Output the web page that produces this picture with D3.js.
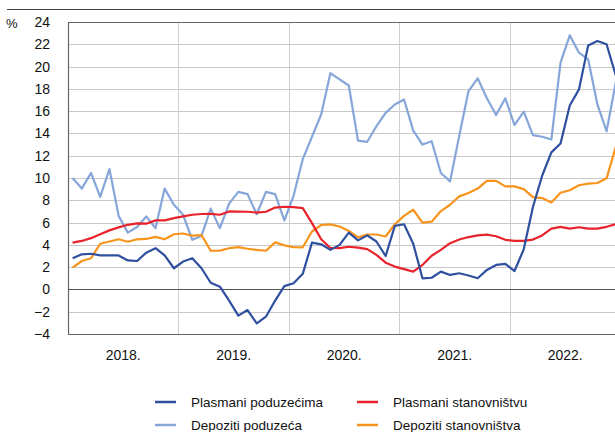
<!DOCTYPE html>
<html>
<head>
<meta charset="utf-8">
<script src="https://cdn.jsdelivr.net/npm/d3@7"></script>
<style>
  body { margin: 0; background: #fff; }
  svg { display: block; font-family: "Liberation Sans", Arial, sans-serif; }
</style>
</head>
<body>
<svg id="chart" width="615" height="432"></svg>
<script>
// monthly data, Jan 2018 - Dec 2022
const years = ["2018.", "2019.", "2020.", "2021.", "2022."];
const yTicks = [-4, -2, 0, 2, 4, 6, 8, 10, 12, 14, 16, 18, 20, 22, 24];

const plasmaniPoduzecima = [
  2.8, 3.15, 3.2, 3.05, 3.05, 3.05, 2.6, 2.55, 3.3, 3.7, 3.05, 1.9,
  2.5, 2.8, 1.9, 0.6, 0.25, -1.0, -2.35, -1.85, -3.05, -2.45, -1.0, 0.3,
  0.55, 1.4, 4.2, 4.05, 3.55, 4.0, 5.1, 4.4, 4.85, 4.3, 3.0, 5.7,
  5.85, 4.1, 1.0, 1.05, 1.6, 1.3, 1.45, 1.25, 1.0, 1.75, 2.2, 2.3,
  1.65, 3.6, 7.4, 10.2, 12.3, 13.1, 16.5, 17.95, 21.9, 22.3, 22.0, 19.2
];
const depozitiPoduzeca = [
  10.0, 9.05, 10.45, 8.3, 10.8, 6.6, 5.1, 5.6, 6.55, 5.5, 9.05, 7.6,
  6.7, 4.45, 4.8, 7.25, 5.5, 7.7, 8.75, 8.55, 6.75, 8.75, 8.55, 6.2,
  8.4, 11.7, 13.7, 15.7, 19.4, 18.85, 18.3, 13.35, 13.25, 14.65, 15.85, 16.6,
  17.05, 14.25, 13.0, 13.3, 10.45, 9.7, 13.8, 17.8, 18.95, 17.15, 15.65, 17.15,
  14.75, 15.95, 13.85, 13.7, 13.45, 20.35, 22.8, 21.25, 20.65, 16.6, 14.2, 18.6
];
const plasmaniStanovnistvu = [
  4.2, 4.35, 4.6, 4.95, 5.3, 5.57, 5.8, 5.93, 5.9, 6.2, 6.2, 6.4,
  6.55, 6.7, 6.77, 6.78, 6.7, 7.0, 6.98, 6.97, 6.9, 6.97, 7.35, 7.42,
  7.38, 7.3, 5.95, 4.5, 3.72, 3.7, 3.83, 3.75, 3.62, 3.1, 2.4, 2.05,
  1.82, 1.6, 2.2, 3.02, 3.55, 4.15, 4.48, 4.7, 4.85, 4.92, 4.77, 4.45,
  4.36, 4.36, 4.47, 4.85, 5.45, 5.62, 5.45, 5.58, 5.45, 5.45, 5.62, 5.86
];
const depozitiStanovnistva = [
  1.95, 2.55, 2.8, 4.1, 4.3, 4.5, 4.28, 4.5, 4.53, 4.72, 4.5, 4.95,
  5.02, 4.82, 4.88, 3.47, 3.48, 3.7, 3.8, 3.65, 3.55, 3.47, 4.22, 3.95,
  3.8, 3.78, 5.2, 5.78, 5.84, 5.65, 5.25, 4.67, 4.93, 4.93, 4.75, 5.85,
  6.6, 7.15, 6.0, 6.08, 7.03, 7.6, 8.35, 8.65, 9.05, 9.74, 9.74, 9.25,
  9.25, 9.0, 8.28, 8.2, 7.8, 8.68, 8.9, 9.35, 9.5, 9.55, 9.97, 12.8
];

const series = [
  { name: "Plasmani poduzećima", values: plasmaniPoduzecima, color: "#2f4f9f" },
  { name: "Depoziti poduzeća", values: depozitiPoduzeca, color: "#86a6d9" },
  { name: "Plasmani stanovništvu", values: plasmaniStanovnistvu, color: "#e8232b" },
  { name: "Depoziti stanovništva", values: depozitiStanovnistva, color: "#f7941d" }
];

const svg = d3.select("#chart");
const margin = { left: 68, top: 22, bottom: 334 };

const x = d3.scaleLinear().domain([0, 60]).range([margin.left, 620.4]);
const y = d3.scaleLinear().domain([-4, 24]).range([margin.bottom, margin.top]);
const ry = v => Math.round(y(v)) + 0.5;

// top rule
svg.append("line")
  .attr("x1", 7).attr("x2", 615)
  .attr("y1", 9.5).attr("y2", 9.5)
  .attr("stroke", "#444").attr("stroke-width", 1.2);

// horizontal gridlines
svg.append("g")
  .selectAll("line")
  .data(yTicks.filter(d => d !== 0 && d !== -4 && d !== 24))
  .join("line")
  .attr("x1", margin.left).attr("x2", 615)
  .attr("y1", ry).attr("y2", ry)
  .attr("stroke", "#c8c8c8").attr("stroke-width", 1);

// vertical gridlines at year boundaries
svg.append("g")
  .selectAll("line")
  .data([12, 24, 36, 48])
  .join("line")
  .attr("x1", d => Math.round(x(d)) + 0.5).attr("x2", d => Math.round(x(d)) + 0.5)
  .attr("y1", margin.top).attr("y2", margin.bottom)
  .attr("stroke", "#cfcfcf").attr("stroke-width", 1);

// frame and zero line
svg.append("line")
  .attr("x1", margin.left + 0.5).attr("x2", margin.left + 0.5)
  .attr("y1", margin.top).attr("y2", margin.bottom + 0.5)
  .attr("stroke", "#666").attr("stroke-width", 1.2);
svg.append("g")
  .selectAll("line")
  .data([-4, 24, 0])
  .join("line")
  .attr("x1", margin.left).attr("x2", 615)
  .attr("y1", ry).attr("y2", ry)
  .attr("stroke", d => d === 0 ? "#555" : "#666").attr("stroke-width", 1.2);

// y tick labels
svg.append("g")
  .selectAll("text")
  .data(yTicks)
  .join("text")
  .attr("x", 50)
  .attr("y", d => y(d))
  .attr("dy", "0.36em")
  .attr("text-anchor", "end")
  .attr("font-size", 14)
  .attr("fill", "#111")
  .text(d => d < 0 ? "\u2212" + Math.abs(d) : d);

svg.append("text")
  .attr("x", 6).attr("y", 23).attr("dy", "0.36em")
  .attr("font-size", 13).attr("fill", "#111")
  .text("%");

// year labels
svg.append("g")
  .selectAll("text")
  .data(years)
  .join("text")
  .attr("x", (d, i) => x(i * 12 + 6))
  .attr("y", 355).attr("dy", "0.36em")
  .attr("text-anchor", "middle")
  .attr("font-size", 14)
  .attr("fill", "#111")
  .text(d => d);

// lines
const line = d3.line()
  .x((d, i) => x(i + 0.5))
  .y(d => y(d));

const drawOrder = [1, 3, 2, 0];
svg.append("g")
  .selectAll("path")
  .data(drawOrder.map(i => series[i]))
  .join("path")
  .attr("d", d => line(d.values))
  .attr("fill", "none")
  .attr("stroke", d => d.color)
  .attr("stroke-width", 2.2)
  .attr("stroke-linejoin", "round");

// legend (second row nudged up so it stays inside the picture)
const legendPos = [
  { x: 155, y: 402 }, { x: 155, y: 425 },
  { x: 357, y: 402 }, { x: 357, y: 425 }
];
const legend = svg.append("g")
  .selectAll("g")
  .data(series)
  .join("g")
  .attr("transform", (d, i) => `translate(${legendPos[i].x},${legendPos[i].y})`);

legend.append("line")
  .attr("x1", 0).attr("x2", 21)
  .attr("stroke", d => d.color).attr("stroke-width", 2.5);

legend.append("text")
  .attr("x", 36).attr("dy", "0.36em")
  .attr("font-size", 13.5)
  .attr("fill", "#111")
  .text(d => d.name);
</script>
</body>
</html>
